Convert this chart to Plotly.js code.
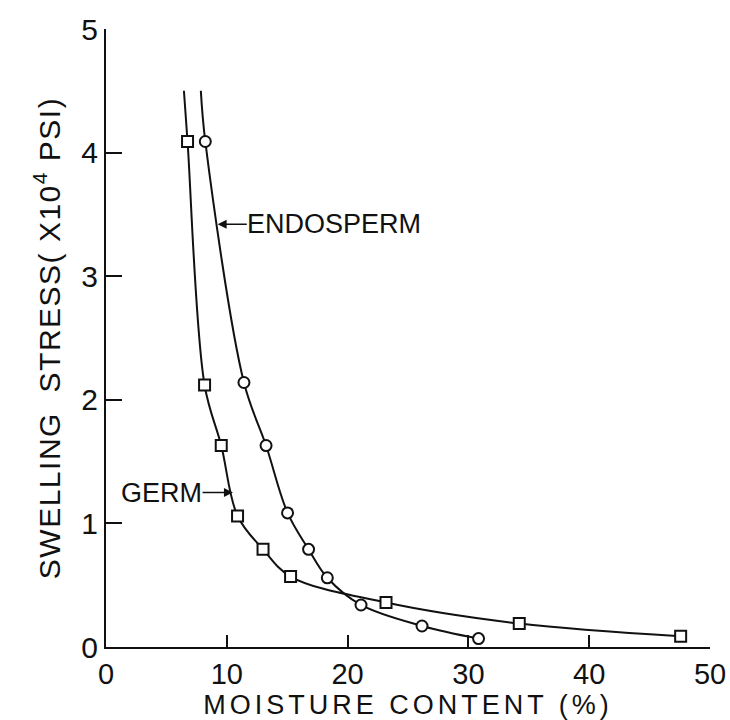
<!DOCTYPE html>
<html>
<head>
<meta charset="utf-8">
<script src="https://cdn.plot.ly/plotly-3.0.1.min.js"></script>
<style>html,body{margin:0;padding:0;background:#fff;}#chart{width:730px;height:720px;}</style>
</head>
<body>
<div id="chart"></div>
<script>
// Data
const germX = [6.75, 8.16, 9.54, 10.89, 13.0, 15.28, 23.18, 34.21, 47.57];
const germY = [4.09, 2.12, 1.63, 1.06, 0.79, 0.57, 0.36, 0.19, 0.087];
const endoX = [8.22, 11.42, 13.25, 15.03, 16.77, 18.32, 21.11, 26.16, 30.84];
const endoY = [4.09, 2.14, 1.63, 1.085, 0.79, 0.56, 0.34, 0.17, 0.068];
// upward continuation of each fitted curve above the last measured point
const germTopX = 6.45, germTopY = 4.5;
const endoTopX = 7.85, endoTopY = 4.5;
const xTicks = [0, 10, 20, 30, 40, 50];
const yTicks = [0, 1, 2, 3, 4, 5];

const FONT = "Liberation Sans, Arial, sans-serif";
const traces = [
  {x: [germTopX].concat(germX), y: [germTopY].concat(germY), mode: 'lines',
   line: {color: '#111', width: 2, shape: 'spline', smoothing: 1}, hoverinfo: 'skip'},
  {x: [endoTopX].concat(endoX), y: [endoTopY].concat(endoY), mode: 'lines',
   line: {color: '#111', width: 2, shape: 'spline', smoothing: 1}, hoverinfo: 'skip'},
  {x: germX, y: germY, mode: 'markers', name: 'GERM',
   marker: {symbol: 'square', size: 11, color: '#fff', line: {color: '#111', width: 2}}},
  {x: endoX, y: endoY, mode: 'markers', name: 'ENDOSPERM',
   marker: {symbol: 'circle', size: 11, color: '#fff', line: {color: '#111', width: 2}}}
];

const layout = {
  width: 730, height: 720,
  margin: {l: 106, r: 20, t: 29, b: 73},
  paper_bgcolor: '#fff', plot_bgcolor: '#fff',
  showlegend: false,
  font: {family: FONT, color: '#111'},
  xaxis: {
    range: [0, 50], tickvals: xTicks, ticktext: xTicks.map(String),
    showline: true, linecolor: '#111', linewidth: 2,
    ticks: 'inside', ticklen: 12, tickwidth: 2, tickcolor: '#111',
    showgrid: false, zeroline: false, fixedrange: true,
    tickfont: {size: 29, family: FONT}, ticklabelstandoff: 0,
    title: {text: 'MOISTURE CONTENT (%)', font: {size: 27, family: FONT}, standoff: 4}
  },
  yaxis: {
    range: [0, 5], tickvals: yTicks, ticktext: yTicks.map(String),
    showline: true, linecolor: '#111', linewidth: 2,
    ticks: 'inside', ticklen: 16, tickwidth: 2, tickcolor: '#111',
    showgrid: false, zeroline: false, fixedrange: true,
    tickfont: {size: 30, family: FONT}, ticklabelstandoff: 0,
    title: {text: 'SWELLING  STRESS( X10<sup>4</sup> PSI)', font: {size: 30, family: FONT}, standoff: 12}
  },
  annotations: [
    {x: 9.24, y: 3.42, ax: 18.9, ay: 3.42, axref: 'x', ayref: 'y', xref: 'x', yref: 'y',
     text: 'ENDOSPERM', showarrow: true, arrowhead: 2, arrowsize: 1.2, arrowwidth: 1.5, arrowcolor: '#111',
     font: {size: 27, family: FONT, color: '#111'}, borderpad: 0},
    {x: 10.51, y: 1.25, ax: 4.6, ay: 1.25, axref: 'x', ayref: 'y', xref: 'x', yref: 'y',
     text: 'GERM', showarrow: true, arrowhead: 2, arrowsize: 1.2, arrowwidth: 1.5, arrowcolor: '#111',
     font: {size: 27, family: FONT, color: '#111'}, borderpad: 0}
  ]
};

Plotly.newPlot('chart', traces, layout, {displayModeBar: false, staticPlot: true}).then(function () {
  // widen letter spacing of the axis titles as in the lettered original
  document.querySelectorAll('.xtitle').forEach(function (e) { e.style.letterSpacing = '4px'; });
  document.querySelectorAll('.ytitle').forEach(function (e) { e.style.letterSpacing = '1.5px'; });
});
</script>
</body>
</html>
